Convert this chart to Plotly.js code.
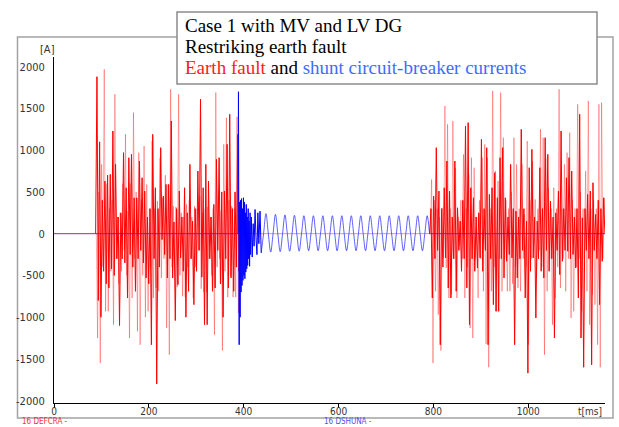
<!DOCTYPE html>
<html>
<head>
<meta charset="utf-8">
<script src="https://cdn.plot.ly/plotly-3.0.1.min.js"></script>
<style>
  html, body { margin: 0; padding: 0; background: #fff; }
  #chart { width: 619px; height: 427px; }
</style>
</head>
<body>
<div id="chart"></div>
<script>
// ---- data ----
// Earth fault current DEFCRA [A], first fault period, sampled every 2.8 ms from t = 90.6 ms
const faultA_bright = [1880,-800,1100,-1000,400,-450,630,-600,700,-650,710,-420,1230,-500,830,-300,200,-1100,250,-300,970,-350,550,-770,910,-250,950,-400,430,-690,430,-300,870,-200,670,-350,510,-530,200,-600,300,-1330,1190,-300,550,-1800,300,-400,1030,-70,450,-250,590,-530,
590,-300,1350,-530,140,-1040,300,-610,510,-290,200,-450,550,-1000,250,-690,830,-300,150,-850,300,-450,750,-200,1610,-520,550,-1090,830,-1090,630,-300,200,-690,350,-650,890,-200,910,-600,500,-1000,510,-300,1070,-650,1430,-530,300,-690,500,-400,1190,-450];
// lighter (half-sample) spikes of the same record, from t = 92.0 ms
const faultA_light = [-1250,500,-1550,830,-400,1970,-930,600,-930,300,-450,400,-1090,1670,-300,200,-600,250,-450,600,-200,1190,-500,270,-1250,600,-770,1450,-300,500,-1170,970,-1330,400,-500,1050,-1000,590,-930,300,-400,1110,-770,300,-650,390,-690,910,-530,430,-300,700,-1130,
590,-1450,1730,-400,330,-300,320,-640,1670,-500,250,-750,200,-760,350,-400,400,-300,200,-770,330,-400,300,-200,450,-660,250,-700,300,-700,320,-300,200,-500,300,-1210,1690,-400,350,-300,280,-1400,1070,-450,1390,-760,400,-500,330,-760,300,-760,1400,-950];
// second fault period, from t = 795 ms
const faultB_bright = [300,-770,450,-300,1030,-200,510,-1330,300,-400,550,-290,870,-650,510,-770,200,-300,870,-690,310,-200,150,-450,400,-300,1290,-650,1330,-1090,550,-300,430,-450,200,-410,250,-290,1130,-450,300,-200,1030,-1330,470,-300,550,-850,730,-930,430,-930,910,-300,1030,-530,430,-330,200,-250,830,
-290,300,-1330,270,-530,200,-300,1250,-200,300,-770,150,-1670,790,-450,1010,-290,200,-1010,150,-300,790,-450,300,-530,1150,-200,950,-450,390,-300,200,-1250,250,-200,510,-490,1230,-330,300,-200,670,-210,910,-300,750,-250,200,-410,300,-770,1430,-1250,190,-1600,300,-200,470,-300,510,-1570,610,-200,230,-300,400,-850,300,-330,430];
const faultB_light = [650,-1550,400,-690,300,-970,200,-1400,310,-290,1530,-410,1310,-770,300,-730,1350,-300,790,-770,200,-150,400,-300,950,-770,300,-400,710,-1130,910,-1250,790,-300,200,-770,400,-300,910,-690,1070,-1320,910,-1600,300,-690,1710,-400,750,-930,630,-300,1690,-690,1150,-300,400,-690,300,-690,500,
-600,1150,-400,830,-650,300,-690,830,-300,230,-400,1110,-1330,400,-300,870,-130,410,-530,300,-200,1250,-400,1150,-1450,910,-690,550,-300,300,-1090,550,-770,300,-400,1730,-650,300,-300,830,-690,970,-300,1210,-1010,400,-930,300,-400,1550,-300,500,-930,300,-300,750,-690,1590,-1090,300,-730,400,-850,300,-1330,1550,-1600,1570,-300,430];

// Shunt circuit-breaker current DSHUNA [A]: switching transient
const shuntTransT = [388,389,390.5,391.5,392.5,393.5,394.5,395.5,396.5,397.5,398.5,399.5,400.5,401.5,402.5,403.5,404.5,405.5,406.5,407.5,408.5,409.5,410.5,411.5,412.5,413.5,414.5,416,418,420,422,424,426,428,430,432,434.5,437];
const shuntTransV = [0,1700,-1330,380,-1000,400,-700,420,-620,300,-560,430,-500,380,-540,250,-460,350,-420,200,-380,300,-300,150,-390,250,-250,200,-280,120,-150,290,-50,-250,250,-120,270,-230];
// steady 50 Hz shunt current, quarter-period samples (5 ms) from t = 437 ms
const shuntSine = [-230,0,
240,0,-220,0, 230,0,-215,0, 225,0,-210,0, 220,0,-210,0, 215,0,-205,0, 215,0,-205,0,
215,0,-205,0, 215,0,-205,0, 215,0,-205,0, 215,0,-205,0, 215,0,-205,0, 215,0,-205,0,
215,0,-205,0, 215,0,-205,0, 215,0,-205,0, 215,0,-205,0, 215,0,-205,0,
215,0];
// shunt current is zero outside the shunt operation
const shuntZeroT = [0, 388, null, 792, 1162];
const shuntZeroV = [0, 0, null, 0, 0];
const faultZeroT = [0, 1162];
const faultZeroV = [0, 0];

const xTicks = [0, 200, 400, 600, 800, 1000];
const yTicks = [-2000, -1500, -1000, -500, 0, 500, 1000, 1500, 2000];
const titleLines = [
  'Case 1 with MV and LV DG',
  'Restriking earth fault',
  '<span style="color:#ff1a1a">Earth fault</span> and <span style="color:#3d6cff">shunt circuit-breaker currents</span>'
];

// ---- sampling setup ----
const dt = 2.8;
const tA = 90.6, tB = 795;

const RED = '#ff0000';
const LIGHTRED = 'rgba(255,0,0,0.33)';
const BLUE = '#0000ff';

function spikeTrace(vals, t0, color) {
  return {
    type: 'scatter', mode: 'lines',
    y: [0].concat(vals, [0]),
    x0: t0 - dt, dx: dt,
    line: { color: color, width: 1 },
    hoverinfo: 'skip', showlegend: false
  };
}

const traces = [
  { type: 'scatter', mode: 'lines', x: faultZeroT, y: faultZeroV,
    line: { color: 'rgba(255,0,0,0.45)', width: 1 }, showlegend: false, hoverinfo: 'skip' },
  spikeTrace(faultA_light, tA + dt / 2, LIGHTRED),
  spikeTrace(faultB_light, tB + dt / 2, LIGHTRED),
  spikeTrace(faultA_bright, tA, RED),
  spikeTrace(faultB_bright, tB, RED),
  { type: 'scatter', mode: 'lines', x: shuntZeroT, y: shuntZeroV, connectgaps: false,
    line: { color: 'rgba(40,40,255,0.65)', width: 1 }, showlegend: false, hoverinfo: 'skip' },
  { type: 'scatter', mode: 'lines', x: shuntTransT, y: shuntTransV,
    line: { color: BLUE, width: 1 }, showlegend: false, hoverinfo: 'skip' },
  { type: 'scatter', mode: 'lines', y: shuntSine, x0: 437, dx: 5,
    line: { color: 'rgba(30,30,255,0.7)', width: 1, shape: 'spline' }, showlegend: false, hoverinfo: 'skip' }
];

// plot area: x 54..605 px, y 57..403 px
const L = 54, R = 605, T = 57, B = 403, W = 619, H = 427;
const px = p => (p - L) / (R - L);
const py = p => (B - p) / (B - T);

const tickFont = { family: 'Liberation Sans Narrow, DejaVu Sans Condensed, Arial Narrow, sans-serif', size: 11, color: '#333' };
const titleFont = { family: 'Liberation Serif, Times New Roman, serif', size: 19, color: '#000' };
const titleY = [25, 46.5, 68];

const annotations = titleLines.map((t, i) => ({
  xref: 'paper', yref: 'paper', x: px(183), y: py(titleY[i]), xanchor: 'left', yanchor: 'middle',
  align: 'left', showarrow: false, font: titleFont, text: t
}));
annotations.push(
  { xref: 'paper', yref: 'paper', x: px(47), y: py(50), xanchor: 'center', yanchor: 'middle',
    showarrow: false, font: tickFont, text: '[A]' },
  { xref: 'paper', yref: 'paper', x: px(604), y: py(412), xanchor: 'right', yanchor: 'middle',
    showarrow: false, font: Object.assign({}, tickFont, { size: 10 }), text: 't[ms]' },
  { xref: 'paper', yref: 'paper', x: px(20), y: py(421.5), xanchor: 'left', yanchor: 'middle',
    showarrow: false, font: Object.assign({}, tickFont, { size: 8, color: '#ff3030' }), text: '16 DEFCRA -' },
  { xref: 'paper', yref: 'paper', x: px(322), y: py(421.5), xanchor: 'left', yanchor: 'middle',
    showarrow: false, font: Object.assign({}, tickFont, { size: 8, color: '#5050ff' }), text: '16 DSHUNA -' }
);

const layout = {
  width: W, height: H,
  margin: { l: L, r: W - R, t: T, b: H - B, pad: 0 },
  paper_bgcolor: '#fff', plot_bgcolor: '#fff',
  showlegend: false,
  xaxis: {
    range: [0, 1162], tickvals: xTicks, ticktext: xTicks.map(String),
    showline: true, linecolor: '#000', linewidth: 1,
    ticks: 'outside', ticklen: 4, tickcolor: '#000', tickwidth: 1,
    ticklabelstandoff: -5,
    showgrid: false, zeroline: false, tickfont: Object.assign({}, tickFont, { size: 10 }),
    fixedrange: true
  },
  yaxis: {
    range: [-2028, 2116], tickvals: yTicks, ticktext: yTicks.map(String),
    showline: true, linecolor: '#000', linewidth: 1,
    ticks: 'outside', ticklen: 6, tickcolor: 'rgba(0,0,0,0)',
    showgrid: false, zeroline: false, tickfont: tickFont,
    fixedrange: true
  },
  shapes: [
    { type: 'rect', xref: 'paper', yref: 'paper',
      x0: px(17.5), x1: px(613), y0: py(418), y1: py(37),
      line: { color: '#a3a3a3', width: 1.5 }, fillcolor: 'rgba(0,0,0,0)', layer: 'below' },
    { type: 'rect', xref: 'paper', yref: 'paper',
      x0: px(177), x1: px(597), y0: py(84), y1: py(12),
      line: { color: '#8c8c8c', width: 1.5 }, fillcolor: '#fff', layer: 'above' }
  ],
  annotations: annotations
};

Plotly.newPlot('chart', traces, layout, { staticPlot: true, displayModeBar: false });
</script>
</body>
</html>
